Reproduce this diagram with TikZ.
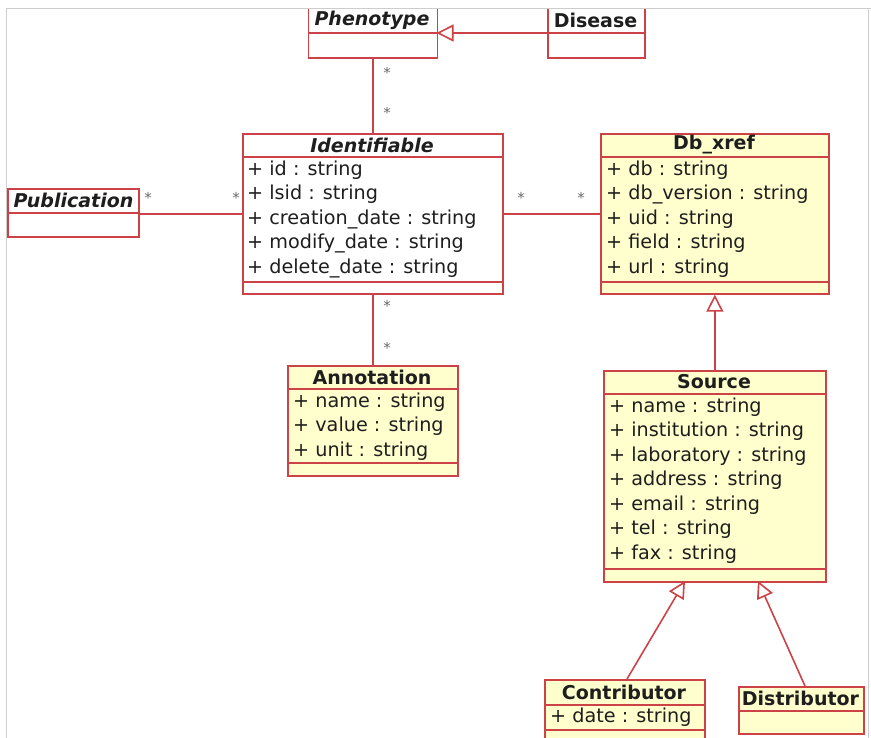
\documentclass[tikz,border=0pt]{standalone}
\usepackage{fontspec}
\setmainfont{DejaVu Sans}
\usetikzlibrary{arrows.meta}
\definecolor{umlred}{RGB}{204,66,70}
\definecolor{umlyel}{RGB}{255,255,206}
\definecolor{framegray}{RGB}{205,205,205}
\definecolor{stargray}{RGB}{105,105,105}
\definecolor{txt}{RGB}{30,30,30}
\tikzset{
  box/.style={draw=umlred, line width=1.7pt, inner sep=0pt, anchor=north west},
  whitebox/.style={box, fill=white},
  yelbox/.style={box, fill=umlyel},
  sep/.style={draw=umlred, line width=1.7pt},
  title/.style={font=\fontsize{19}{20}\selectfont\bfseries, text=txt, inner sep=0pt, anchor=center},
  atitle/.style={title, font=\fontsize{19}{20}\selectfont\bfseries\itshape},
  attr/.style={font=\fontsize{19.2}{20}\selectfont, text=txt, inner sep=0pt, anchor=west},
  mult/.style={font=\fontsize{15}{16}\selectfont, text=stargray, inner sep=0pt},
  assoc/.style={draw=umlred, line width=1.6pt},
  gen/.style={draw=umlred, line width=1.6pt, -{Triangle[length=17pt, width=17pt, fill=white, line width=1.6pt]}},
  frameline/.style={draw=framegray, line width=1pt}
}
\begin{document}
\begin{tikzpicture}[x=1pt, y=-1pt]
\useasboundingbox (0,0) rectangle (871,738);
\begin{scope}
\clip (0,9) rectangle (871,738);
% Phenotype
\node[whitebox, minimum width=129pt, minimum height=62pt] (phen) at (307.5,-5) {};
\draw[sep] (307.5,33) -- (436.5,33);
\node[atitle] (phent) at (372,20) {Phenotype};
% Disease
\node[whitebox, minimum width=97pt, minimum height=62pt] (dis) at (547,-5) {};
\draw[sep] (547,33) -- (644,33);
\node[title] (dist) at (595.5,20) {Disease};
% Identifiable
\node[whitebox, minimum width=260pt, minimum height=160pt] (ident) at (242,133) {};
\draw[sep] (242,157) -- (502,157);
\draw[sep] (242,282) -- (502,282);
\node[atitle] (identt) at (372,145) {Identifiable};
\node[attr] (i1) at (247,170) {+ id : string};
\node[attr] (i2) at (247,194.5) {+ lsid : string};
\node[attr] (i3) at (247,219) {+ creation\_date : string};
\node[attr] (i4) at (247,243.5) {+ modify\_date : string};
\node[attr] (i5) at (247,268) {+ delete\_date : string};
% Publication
\node[whitebox, minimum width=131pt, minimum height=48pt] (pub) at (7,188) {};
\draw[sep] (7,213) -- (138,213);
\node[atitle] (pubt) at (73.5,200) {Publication};
% Db_xref
\node[yelbox, minimum width=228pt, minimum height=160pt] (db) at (600,133) {};
\draw[sep] (600,157) -- (828,157);
\draw[sep] (600,282) -- (828,282);
\node[title] (dbt) at (714,145) {Db\_xref};
\node[attr] (d1) at (606,170) {+ db : string};
\node[attr] (d2) at (606,194.5) {+ db\_version : string};
\node[attr] (d3) at (606,219) {+ uid : string};
\node[attr] (d4) at (606,243.5) {+ field : string};
\node[attr] (d5) at (606,268) {+ url : string};
% Annotation
\node[yelbox, minimum width=170pt, minimum height=110pt] (ann) at (287,365) {};
\draw[sep] (287,389) -- (457,389);
\draw[sep] (287,463) -- (457,463);
\node[title] (annt) at (372,377) {Annotation};
\node[attr] (a1) at (293,402) {+ name : string};
\node[attr] (a2) at (293,426.5) {+ value : string};
\node[attr] (a3) at (293,451) {+ unit : string};
% Source
\node[yelbox, minimum width=222pt, minimum height=211pt] (src) at (603,370) {};
\draw[sep] (603,394) -- (825,394);
\draw[sep] (603,569) -- (825,569);
\node[title] (srct) at (714,382) {Source};
\node[attr] (s1) at (609,407) {+ name : string};
\node[attr] (s2) at (609,431.5) {+ institution : string};
\node[attr] (s3) at (609,456) {+ laboratory : string};
\node[attr] (s4) at (609,480.5) {+ address : string};
\node[attr] (s5) at (609,505) {+ email : string};
\node[attr] (s6) at (609,529.5) {+ tel : string};
\node[attr] (s7) at (609,554) {+ fax : string};
% Contributor
\node[yelbox, minimum width=160pt, minimum height=70pt] (con) at (544,679) {};
\draw[sep] (544,705) -- (704,705);
\draw[sep] (544,730) -- (704,730);
\node[title] (cont) at (624,692) {Contributor};
\node[attr] (c1) at (550,717) {+ date : string};
% Distributor
\node[yelbox, minimum width=125pt, minimum height=47pt] (distr) at (738,686) {};
\draw[sep] (738,711) -- (863,711);
\node[title] (distrt) at (800.5,698.5) {Distributor};
% connectors
\coordinate (phG) at (436.5,33);
\coordinate (disG) at (547,33);
\draw[gen] (disG) -- (phG);
\draw[assoc] (phen.south) -- (ident.north);
\draw[assoc] (ident.west -| pub.east) -- (ident.west);
\draw[assoc] (ident.east) -- (db.west);
\draw[assoc] (ident.south) -- (ann.north);
\draw[gen] (src.north) -- (db.south);
\coordinate (srcL) at (685,581);
\coordinate (srcR) at (758,581);
\coordinate (conT) at (627,679);
\coordinate (disT) at (805,686);
\draw[gen] (conT) -- (srcL);
\draw[gen] (disT) -- (srcR);
% multiplicities
\node[mult] (m1) at (387,73) {*};
\node[mult] (m2) at (387,113) {*};
\node[mult] (m3) at (148,198) {*};
\node[mult] (m4) at (236,198) {*};
\node[mult] (m5) at (521,198) {*};
\node[mult] (m6) at (581,198) {*};
\node[mult] (m7) at (387,306) {*};
\node[mult] (m8) at (387,348) {*};
\end{scope}
% window frame
\draw[frameline] (6,738) -- (6,9) -- (871,9);
\draw[frameline] (868,9) -- (868,738);
\end{tikzpicture}
\end{document}
